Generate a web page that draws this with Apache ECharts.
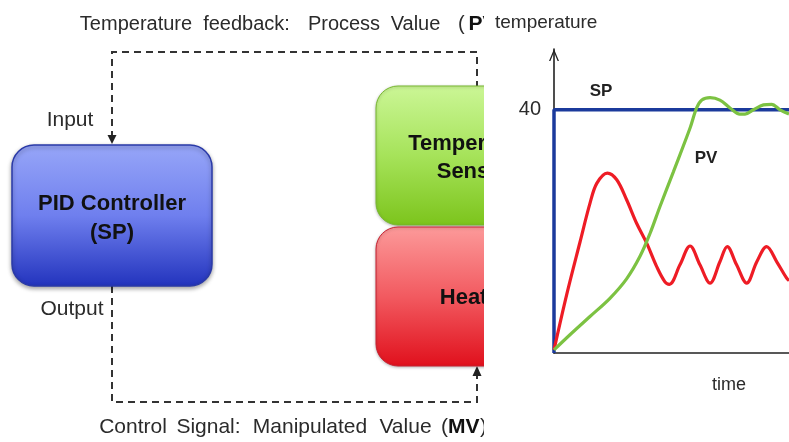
<!DOCTYPE html>
<html>
<head>
<meta charset="utf-8">
<script src="https://cdn.jsdelivr.net/npm/echarts@6/dist/echarts.min.js"></script>
<style>
html,body{margin:0;padding:0;background:#fff;}
#main{width:789px;height:442px;}
</style>
</head>
<body>
<div id="main"></div>
<script>
// ---- Data ----
var spTime  = [0, 0, 100];
var spValue = [0, 40, 40];

var pvTime  = [0, 6.8, 15.3, 23.8, 30.9, 36.6, 40.9, 45.1, 50.8, 57.9, 60.7, 62.9, 66.4, 70.6, 74.9, 79.1, 81.3, 84.8, 89.1, 92.6, 96.2, 100];
var pvValue = [0.5, 3.0, 6.0, 9.0, 12.2, 15.9, 19.7, 24.1, 29.8, 37.0, 40.3, 41.6, 42.0, 41.6, 40.3, 39.3, 39.3, 40.0, 40.8, 40.9, 40.0, 39.3];

var mvTime  = [0, 5.4, 11.1, 15.3, 18.2, 22.7, 26.7, 30.9, 35.2, 39.4, 43.7, 47.2, 49.1, 53.6, 57.9, 62.1, 66.4, 70.6, 73.7, 77.7, 82.0, 86.3, 90.5, 94.8, 99.0, 100];
var mvValue = [0.5, 9.6, 18.3, 24.6, 27.9, 29.6, 28.5, 25.2, 21.3, 18.1, 14.2, 11.7, 11.3, 14.5, 17.6, 14.5, 11.5, 15.0, 17.5, 14.5, 11.5, 15.0, 17.5, 15.0, 12.3, 11.9];

var yTickLabels = ['40'];

function pairs(xs, ys) { return xs.map(function (x, i) { return [x, ys[i]]; }); }

var FONT = 'Liberation Sans, Arial, Helvetica, sans-serif';
var TXT = '#2b2b2b';
var DASH = '#333333';

var chart = echarts.init(document.getElementById('main'), null, {renderer: 'canvas'});

function grad(c0, c1, c2) {
  return {type: 'linear', x: 0, y: 0, x2: 0, y2: 1,
    colorStops: [{offset: 0, color: c0}, {offset: 0.5, color: c1}, {offset: 1, color: c2}]};
}
function word(text, x, y, size, bold, align) {
  return {type: 'text', x: x, y: y, z: -10, style: {
    text: text, align: align || 'center', verticalAlign: 'middle',
    font: (bold ? 'bold ' : '') + size + 'px ' + FONT, fill: bold ? '#111' : TXT}};
}

var diagram = [
  // top feedback text
  word('Temperature', 136, 24, 20), word('feedback:', 246.5, 24, 20), word('Process', 344, 24, 20),
  word('Value', 415.5, 24, 20), word('(', 458, 24, 20, false, 'left'), word('PV)', 468.5, 24, 21, true, 'left'),
  // bottom control text
  word('Control', 133, 427, 21), word('Signal:', 208.5, 427, 21), word('Manipulated', 310, 427, 21),
  word('Value', 405.5, 427, 21), word('(', 441, 427, 21, false, 'left'), word('MV', 448, 427, 21, true, 'left'),
  word(')', 480, 427, 21, false, 'left'),
  // dashed feedback path
  {type: 'polyline', z: -10, shape: {points: [[112, 138], [112, 52], [477, 52], [477, 86]]},
    style: {stroke: DASH, lineWidth: 2, lineDash: [7, 5], fill: null}},
  {type: 'polygon', z: -10, shape: {points: [[107.5, 135], [116.5, 135], [112, 144]]}, style: {fill: '#222'}},
  // dashed control path
  {type: 'polyline', z: -10, shape: {points: [[112, 286], [112, 402], [477, 402], [477, 374]]},
    style: {stroke: DASH, lineWidth: 2, lineDash: [7, 5], fill: null}},
  {type: 'polygon', z: -10, shape: {points: [[472.5, 376], [481.5, 376], [477, 366]]}, style: {fill: '#222'}},
  // PID controller box
  {type: 'rect', z: -10, shape: {x: 12, y: 145, width: 200, height: 141, r: 22},
    style: {fill: grad('#97a6f8', '#6f7fee', '#2233bd'), stroke: '#2a3aa8', lineWidth: 1.5,
      shadowBlur: 4, shadowColor: 'rgba(0,0,0,0.35)', shadowOffsetY: 2}},
  {type: 'text', x: 112, y: 218, z: -9, style: {
    text: 'PID Controller\n(SP)', align: 'center', verticalAlign: 'middle',
    font: 'bold 22px ' + FONT, fill: '#111', lineHeight: 29}},
  // Temperature sensor box
  {type: 'rect', z: -10, shape: {x: 376, y: 86, width: 200, height: 139, r: 22},
    style: {fill: grad('#cbf696', '#a6e35a', '#7cc41c'), stroke: '#78b830', lineWidth: 1,
      shadowBlur: 3, shadowColor: 'rgba(0,0,0,0.25)', shadowOffsetY: 1}},
  {type: 'text', x: 474, y: 158, z: -9, style: {
    text: 'Temperature\nSensor', align: 'center', verticalAlign: 'middle',
    font: 'bold 22px ' + FONT, fill: '#111', lineHeight: 28}},
  // Heater box
  {type: 'rect', z: -10, shape: {x: 376, y: 227, width: 200, height: 139, r: 22},
    style: {fill: grad('#fc9a9a', '#f25a60', '#e0101c'), stroke: '#c82030', lineWidth: 1,
      shadowBlur: 3, shadowColor: 'rgba(0,0,0,0.25)', shadowOffsetY: 1}},
  {type: 'text', x: 474, y: 298, z: -9, style: {
    text: 'Heater', align: 'center', verticalAlign: 'middle',
    font: 'bold 22px ' + FONT, fill: '#111'}},
  // Input / Output labels
  word('Input', 70, 120, 21), word('Output', 72, 309, 21),
  // panel background of the chart (covers overflow of the diagram)
  {type: 'rect', z: -5, shape: {x: 484, y: 0, width: 305, height: 442}, style: {fill: '#ffffff'}},
  // chart texts
  {type: 'text', x: 495, y: 23, z: 5, style: {text: 'temperature', align: 'left', verticalAlign: 'middle',
    font: '19px ' + FONT, fill: TXT}},
  {type: 'text', x: 729, y: 385, z: 5, style: {text: 'time', align: 'center', verticalAlign: 'middle',
    font: '18px ' + FONT, fill: TXT}},
  {type: 'text', x: 601, y: 91, z: 5, style: {text: 'SP', align: 'center', verticalAlign: 'middle',
    font: 'bold 17px ' + FONT, fill: '#222'}},
  {type: 'text', x: 706, y: 158, z: 5, style: {text: 'PV', align: 'center', verticalAlign: 'middle',
    font: 'bold 17px ' + FONT, fill: '#222'}}
];

var option = {
  backgroundColor: '#ffffff',
  animation: false,
  graphic: {elements: diagram},
  grid: {left: 554, top: 49, right: 0, bottom: 89, containLabel: false},
  xAxis: {
    type: 'value', min: 0, max: 100,
    axisLine: {show: true, lineStyle: {color: '#222', width: 1.6}},
    axisTick: {show: false}, axisLabel: {show: false}, splitLine: {show: false}
  },
  yAxis: {
    type: 'value', min: 0, max: 50, interval: 40,
    axisLine: {show: true, onZero: false, lineStyle: {color: '#222', width: 1.6},
      symbol: ['none', 'path://M0,12 L5,0 L10,12 L8.6,12 L5,3.2 L1.4,12 Z'],
      symbolSize: [11, 12], symbolOffset: [0, -6]},
    axisTick: {show: false}, splitLine: {show: false},
    axisLabel: {show: true, margin: 13, fontSize: 20, fontFamily: FONT, color: TXT,
      formatter: function (v) { return yTickLabels.indexOf(String(v)) >= 0 ? String(v) : ''; }}
  },
  series: [
    {name: 'SP', type: 'line', data: pairs(spTime, spValue), showSymbol: false, symbol: 'none',
      lineStyle: {color: '#1b3a9c', width: 3.5}, z: 3},
    {name: 'MV', type: 'line', data: pairs(mvTime, mvValue), smooth: 0.35, showSymbol: false, symbol: 'none',
      lineStyle: {color: '#ee1c25', width: 3.2}, z: 4},
    {name: 'PV', type: 'line', data: pairs(pvTime, pvValue), smooth: 0.35, showSymbol: false, symbol: 'none',
      lineStyle: {color: '#7cc242', width: 3.2}, z: 5}
  ]
};
chart.setOption(option);
</script>
</body>
</html>
